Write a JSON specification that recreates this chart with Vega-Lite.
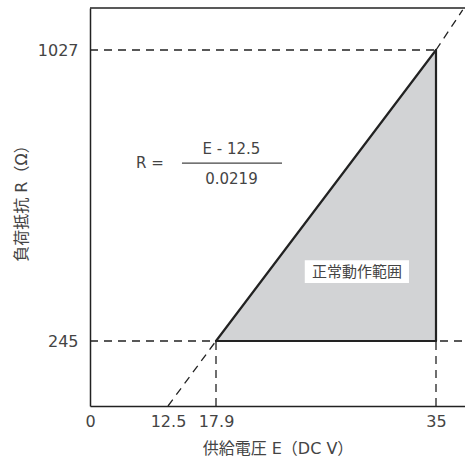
{
  "$schema": "https://vega.github.io/schema/vega-lite/v6.json",
  "width": 375,
  "height": 398,
  "autosize": "none",
  "padding": {"left": 90, "top": 8, "right": 0, "bottom": 55},
  "background": "white",
  "config": {
    "view": {"stroke": null},
    "axis": {
      "grid": false,
      "ticks": false,
      "domainColor": "#222",
      "domainWidth": 1.5,
      "labelFont": "DejaVu Sans, Noto Sans CJK JP",
      "labelFontSize": 16,
      "labelFontWeight": "normal",
      "labelColor": "#444",
      "titleFont": "DejaVu Sans, Noto Sans CJK JP",
      "titleFontSize": 16,
      "titleFontWeight": "normal",
      "titleColor": "#444"
    }
  },
  "datasets": {
    "region": [
      {"E": 17.9, "R": 245, "R2": 245},
      {"E": 35, "R": 1027, "R2": 245}
    ],
    "dashed": [
      {"E": 0, "R": 1027, "E2": 35, "R2": 1027},
      {"E": 0, "R": 245, "E2": 37.5, "R2": 245},
      {"E": 17.9, "R": 0, "E2": 17.9, "R2": 245},
      {"E": 35, "R": 0, "E2": 35, "R2": 245},
      {"E": 12.5, "R": 0, "E2": 17.9, "R2": 245},
      {"E": 35, "R": 1027, "E2": 37.3, "R2": 1135}
    ],
    "solid": [
      {"E": 17.9, "R": 245, "E2": 35, "R2": 1027},
      {"E": 35, "R": 1027, "E2": 35, "R2": 245},
      {"E": 17.9, "R": 245, "E2": 35, "R2": 245}
    ],
    "border": [
      {"E": 0, "R": 1140, "E2": 37.5, "R2": 1140}
    ],
    "labelbox": [
      {"E": 24.8, "R": 462, "E2": 32.9, "R2": 401}
    ],
    "texts": [
      {"E": 9.6, "R": 723, "label": "R ="},
      {"E": 19.1, "R": 760, "label": "E - 12.5"},
      {"E": 19.1, "R": 681, "label": "0.0219"}
    ],
    "jptext": [
      {"E": 28.86, "R": 431, "label": "正常動作範囲"}
    ],
    "fracline": [
      {"E": 14.07, "R": 723, "E2": 23.03, "R2": 723}
    ]
  },
  "encoding": {
    "x": {
      "field": "E",
      "type": "quantitative",
      "scale": {"domain": [0, 12.5, 17.9, 35, 37.5], "range": [0, 78, 126, 346, 375]},
      "axis": {
        "values": [0, 12.5, 17.9, 35],
        "labelExpr": "datum.value + ''",
        "labelPadding": 7,
        "title": "供給電圧 E（DC V）",
        "titlePadding": 11,
        "labelFlush": false
      }
    },
    "y": {
      "field": "R",
      "type": "quantitative",
      "scale": {"domain": [0, 245, 1027, 1140], "range": [398, 333, 42, 0]},
      "axis": {
        "values": [245, 1027],
        "labelExpr": "datum.value + ''",
        "labelPadding": 12,
        "title": "負荷抵抗 R（Ω）",
        "titlePadding": 8,
        "titleY": 191,
        "labelFlush": false
      }
    }
  },
  "layer": [
    {
      "data": {"name": "region"},
      "mark": {"type": "area", "color": "#d2d3d5"},
      "encoding": {"y2": {"field": "R2"}}
    },
    {
      "data": {"name": "labelbox"},
      "mark": {"type": "rect", "color": "white"},
      "encoding": {"x2": {"field": "E2"}, "y2": {"field": "R2"}}
    },
    {
      "data": {"name": "dashed"},
      "mark": {"type": "rule", "color": "#222", "strokeWidth": 1.3, "strokeDash": [8, 6]},
      "encoding": {"x2": {"field": "E2"}, "y2": {"field": "R2"}}
    },
    {
      "data": {"name": "solid"},
      "mark": {"type": "rule", "color": "#222", "strokeWidth": 2.2, "strokeCap": "round"},
      "encoding": {"x2": {"field": "E2"}, "y2": {"field": "R2"}}
    },
    {
      "data": {"name": "border"},
      "mark": {"type": "rule", "color": "#222", "strokeWidth": 1.5},
      "encoding": {"x2": {"field": "E2"}, "y2": {"field": "R2"}}
    },
    {
      "data": {"name": "fracline"},
      "mark": {"type": "rule", "color": "#444", "strokeWidth": 1.2},
      "encoding": {"x2": {"field": "E2"}, "y2": {"field": "R2"}}
    },
    {
      "data": {"name": "texts"},
      "mark": {"type": "text", "font": "DejaVu Sans", "fontSize": 15, "color": "#444", "align": "center", "baseline": "middle"},
      "encoding": {"text": {"field": "label"}}
    },
    {
      "data": {"name": "jptext"},
      "mark": {"type": "text", "font": "Noto Sans CJK JP", "fontSize": 15, "color": "#444", "align": "center", "baseline": "middle"},
      "encoding": {"text": {"field": "label"}}
    }
  ]
}
